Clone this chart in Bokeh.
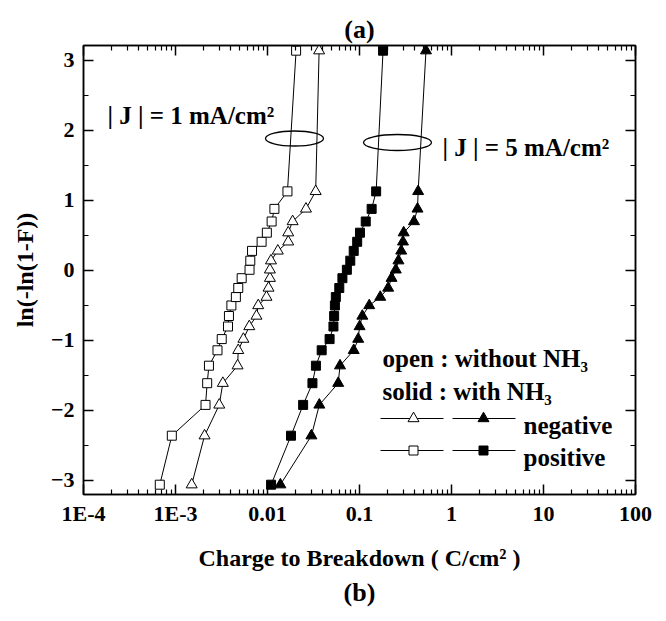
from bokeh.plotting import figure
from bokeh.models import (Range1d, LinearScale, LinearAxis, LogAxis, Title,
                          FixedTicker, CustomJSTickFormatter)
from bokeh.embed import file_html
from bokeh.resources import INLINE
from bokeh.core.properties import value

# ---------------- data ----------------
# Weibull plotting positions ln(-ln(1-F)) shared by all four samples
weibull_y = [-3.06, -2.36, -1.92, -1.61, -1.36, -1.14, -0.98, -0.80, -0.65, -0.50, -0.38,
             -0.25, -0.11, 0.01, 0.14, 0.28, 0.41, 0.54, 0.70, 0.88, 1.13, 3.14]

# Charge to breakdown (C/cm^2)
qbd_pos_open = [0.000675, 0.000912, 0.00212, 0.00221, 0.00231, 0.00286, 0.00318, 0.00372,
                0.00381, 0.00405, 0.00453, 0.00481, 0.00524, 0.00638, 0.00650, 0.00679,
                0.00863, 0.00984, 0.01109, 0.01189, 0.01648, 0.02046]
qbd_neg_open = [0.00150, 0.00207, 0.00299, 0.00327, 0.00473, 0.00481, 0.00547, 0.00634,
                0.00759, 0.00793, 0.00975, 0.01026, 0.01062, 0.01062, 0.01091, 0.01294,
                0.01679, 0.01679, 0.01875, 0.0262, 0.0334, 0.0364]
qbd_pos_solid = [0.01094, 0.0180, 0.0244, 0.0308, 0.0336, 0.0388, 0.0473, 0.0521, 0.0530,
                 0.0540, 0.0553, 0.0603, 0.0652, 0.0729, 0.0794, 0.0865, 0.0944, 0.1012,
                 0.1169, 0.1355, 0.1517, 0.1803]
qbd_neg_solid = [0.0138, 0.0300, 0.0366, 0.0587, 0.0614, 0.0865, 0.0968, 0.1002, 0.1074,
                 0.1276, 0.168, 0.205, 0.223, 0.248, 0.265, 0.284, 0.297, 0.302, 0.391,
                 0.427, 0.434, 0.528]

x_tick_values = [1e-4, 1e-3, 1e-2, 1e-1, 1, 10, 100]
x_tick_labels = ["1E-4", "1E-3", "0.01", "0.1", "1", "10", "100"]
y_tick_values = [-3, -2, -1, 0, 1, 2, 3]

FAMILY = "Liberation Serif"
FONT = value(FAMILY)

p = figure(width=666, height=621, x_axis_type="log",
           x_range=Range1d(1e-4, 100), y_range=Range1d(-3.2, 3.214),
           output_backend="svg", toolbar_location=None,
           min_border_left=83, min_border_right=31, min_border_top=45, min_border_bottom=127)
p.background_fill_color = "white"
p.border_fill_color = "white"
p.grid.visible = False
p.outline_line_color = "black"
p.outline_line_width = 1.5

# pixel-like helper range for annotations (frame relative)
p.extra_x_ranges = {"px": Range1d(0, 552)}
p.extra_x_scales = {"px": LinearScale()}
p.extra_y_ranges = {"px": Range1d(0, 449)}

minor_x = [k * 10.0 ** e for e in range(-4, 2) for k in range(2, 10)]
xticker = FixedTicker(ticks=x_tick_values, minor_ticks=minor_x)
yticker = FixedTicker(ticks=y_tick_values, minor_ticks=[-2.5, -1.5, -0.5, 0.5, 1.5, 2.5])
xfmt = CustomJSTickFormatter(args=dict(labels=x_tick_labels),
                             code="return labels[Math.round(Math.log10(tick)) + 4];")

def style_axis(ax, show_labels):
    ax.major_tick_in = 10
    ax.major_tick_out = 0
    ax.minor_tick_in = 5
    ax.minor_tick_out = 0
    ax.major_tick_line_width = 1.5
    ax.minor_tick_line_width = 1.2
    ax.axis_line_width = 1.5
    ax.major_label_text_font = FAMILY
    ax.major_label_text_font_style = "bold"
    ax.major_label_text_color = "black"
    ax.axis_label_text_font = FAMILY
    ax.axis_label_text_font_style = "bold"
    ax.axis_label_text_color = "black"
    ax.axis_label_text_font_size = "24px"
    if show_labels:
        ax.major_label_text_font_size = "22px"
    else:
        ax.major_label_text_font_size = "2px"
        ax.major_label_text_alpha = 0
        ax.major_label_standoff = 0

xa = p.xaxis[0]
xa.ticker = xticker
xa.formatter = xfmt
style_axis(xa, True)
xa.major_label_standoff = 6
xa.axis_label = "Charge to Breakdown ( C/cm\u00b2 )"
xa.axis_label_standoff = 16

ya = p.yaxis[0]
ya.ticker = yticker
style_axis(ya, True)
ya.major_label_standoff = 9
ya.axis_label = "ln(-ln(1-F))"
ya.axis_label_standoff = 10

top = LogAxis(ticker=xticker)
style_axis(top, False)
p.add_layout(top, "above")
right = LinearAxis(ticker=yticker)
style_axis(right, False)
p.add_layout(right, "right")

t_top = Title(text="(a)", align="center")
t_bot = Title(text="(b)", align="center")
for t in (t_top, t_bot):
    t.text_font = FAMILY
    t.text_font_style = "bold"
    t.text_font_size = "26px"
    t.text_color = "black"
    t.standoff = 4
p.add_layout(t_top, "above")
p.add_layout(t_bot, "below")

# ---------------- series ----------------
series = [
    (qbd_pos_open, "square", 9, "white"),
    (qbd_neg_open, "triangle", 11, "white"),
    (qbd_pos_solid, "square", 9, "black"),
    (qbd_neg_solid, "triangle", 11, "black"),
]
for xs, mk, sz, fill in series:
    p.line(xs, weibull_y, line_color="black", line_width=1)
    p.scatter(xs, weibull_y, marker=mk, size=sz, fill_color=fill,
              line_color="black", line_width=1)

# ---------------- annotations (frame pixel coordinates) ----------------
def txt(x, y, s, size="25px"):
    p.text(x=[x], y=[y], text=[s], text_font=FONT, text_font_style="bold",
           text_font_size=size, text_color="black", text_baseline="alphabetic",
           text_align="left", x_range_name="px", y_range_name="px")

txt(24, 379, "| J | = 1 mA/cm\u00b2")
txt(359, 347, "| J | = 5 mA/cm\u00b2")
p.ellipse(x=[211, 314], y=[356, 352], width=[58, 68], height=[15, 16],
          fill_color=None, line_color="black", line_width=1.3,
          x_range_name="px", y_range_name="px")

txt(299, 136, "open : without NH\u2083")
txt(299, 103, "solid : with NH\u2083")
txt(440, 69, "negative")
txt(440, 37, "positive")
for yy, mk in [(76, "triangle"), (44, "square")]:
    sz = 11 if mk == "triangle" else 9
    p.line([297, 360], [yy, yy], line_color="black", line_width=1,
           x_range_name="px", y_range_name="px")
    p.line([369, 432], [yy, yy], line_color="black", line_width=1,
           x_range_name="px", y_range_name="px")
    p.scatter([330], [yy], marker=mk, size=sz, fill_color="white", line_color="black",
              x_range_name="px", y_range_name="px")
    p.scatter([400], [yy], marker=mk, size=sz, fill_color="black", line_color="black",
              x_range_name="px", y_range_name="px")

open("out.html", "w").write(file_html(p, INLINE))
